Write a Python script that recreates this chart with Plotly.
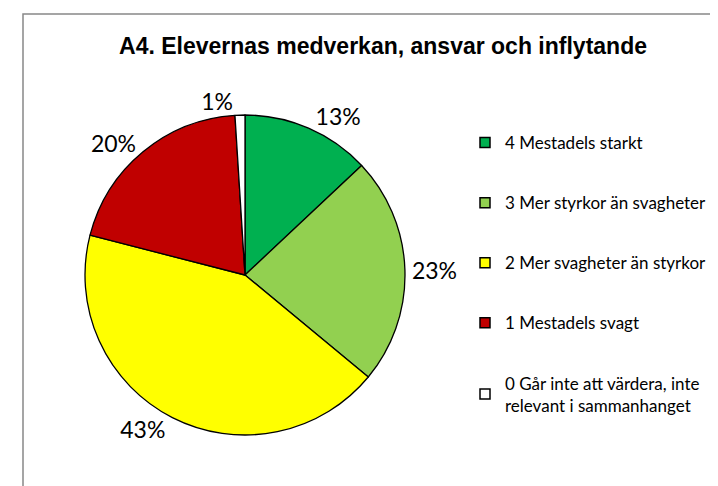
import plotly.graph_objects as go

labels = ["4 Mestadels starkt", "3 Mer styrkor än svagheter", "2 Mer svagheter än styrkor",
          "1 Mestadels svagt", "0 Går inte att värdera, inte<br>relevant i sammanhanget"]
values = [13, 23, 43, 20, 1]
colors = ["#00B050", "#92D050", "#FFFF00", "#C00000", "#FFFFFF"]
title = "A4. Elevernas medverkan, ansvar och inflytande"

W, H = 718, 486
fig = go.Figure()
fig.add_trace(go.Pie(
    labels=labels, values=values, sort=False, direction="clockwise", rotation=0,
    marker=dict(colors=colors, line=dict(color="black", width=1.3)),
    textinfo="percent", textposition="outside", texttemplate="%{percent:.0%}",
    textfont=dict(family="Lato", size=23, color="black"),
    showlegend=False, hoverinfo="label+percent",
    domain=dict(x=[77 / W, 397 / W], y=[1 - 427 / H, 1 - 107 / H]),
))
for lab, col in zip(labels, colors):
    fig.add_trace(go.Scatter(
        x=[None], y=[None], mode="markers", name=lab, legendgroup=lab,
        marker=dict(symbol="square", size=10, color=col, line=dict(color="black", width=1.5)),
    ))
fig.update_layout(
    width=W, height=H, margin=dict(l=0, r=0, t=0, b=0),
    paper_bgcolor="white", plot_bgcolor="white",
    xaxis=dict(visible=False), yaxis=dict(visible=False),
    title=dict(text="<b>" + title + "</b>", x=375 / W, xanchor="center", y=1 - 38 / H, yanchor="middle",
               font=dict(family="Liberation Sans", size=23, color="black")),
    legend=dict(x=457 / W, y=1 - 117 / H, xanchor="left", yanchor="top",
                font=dict(family="Lato", size=17, color="black"),
                tracegroupgap=35, itemwidth=30, bgcolor="rgba(0,0,0,0)"),
    shapes=[dict(type="rect", xref="paper", yref="paper", x0=15 / W, x1=1.2, y0=-0.2, y1=1 - 6 / H,
                 line=dict(color="#888888", width=1.5))],
)
fig.write_html("out.html")
